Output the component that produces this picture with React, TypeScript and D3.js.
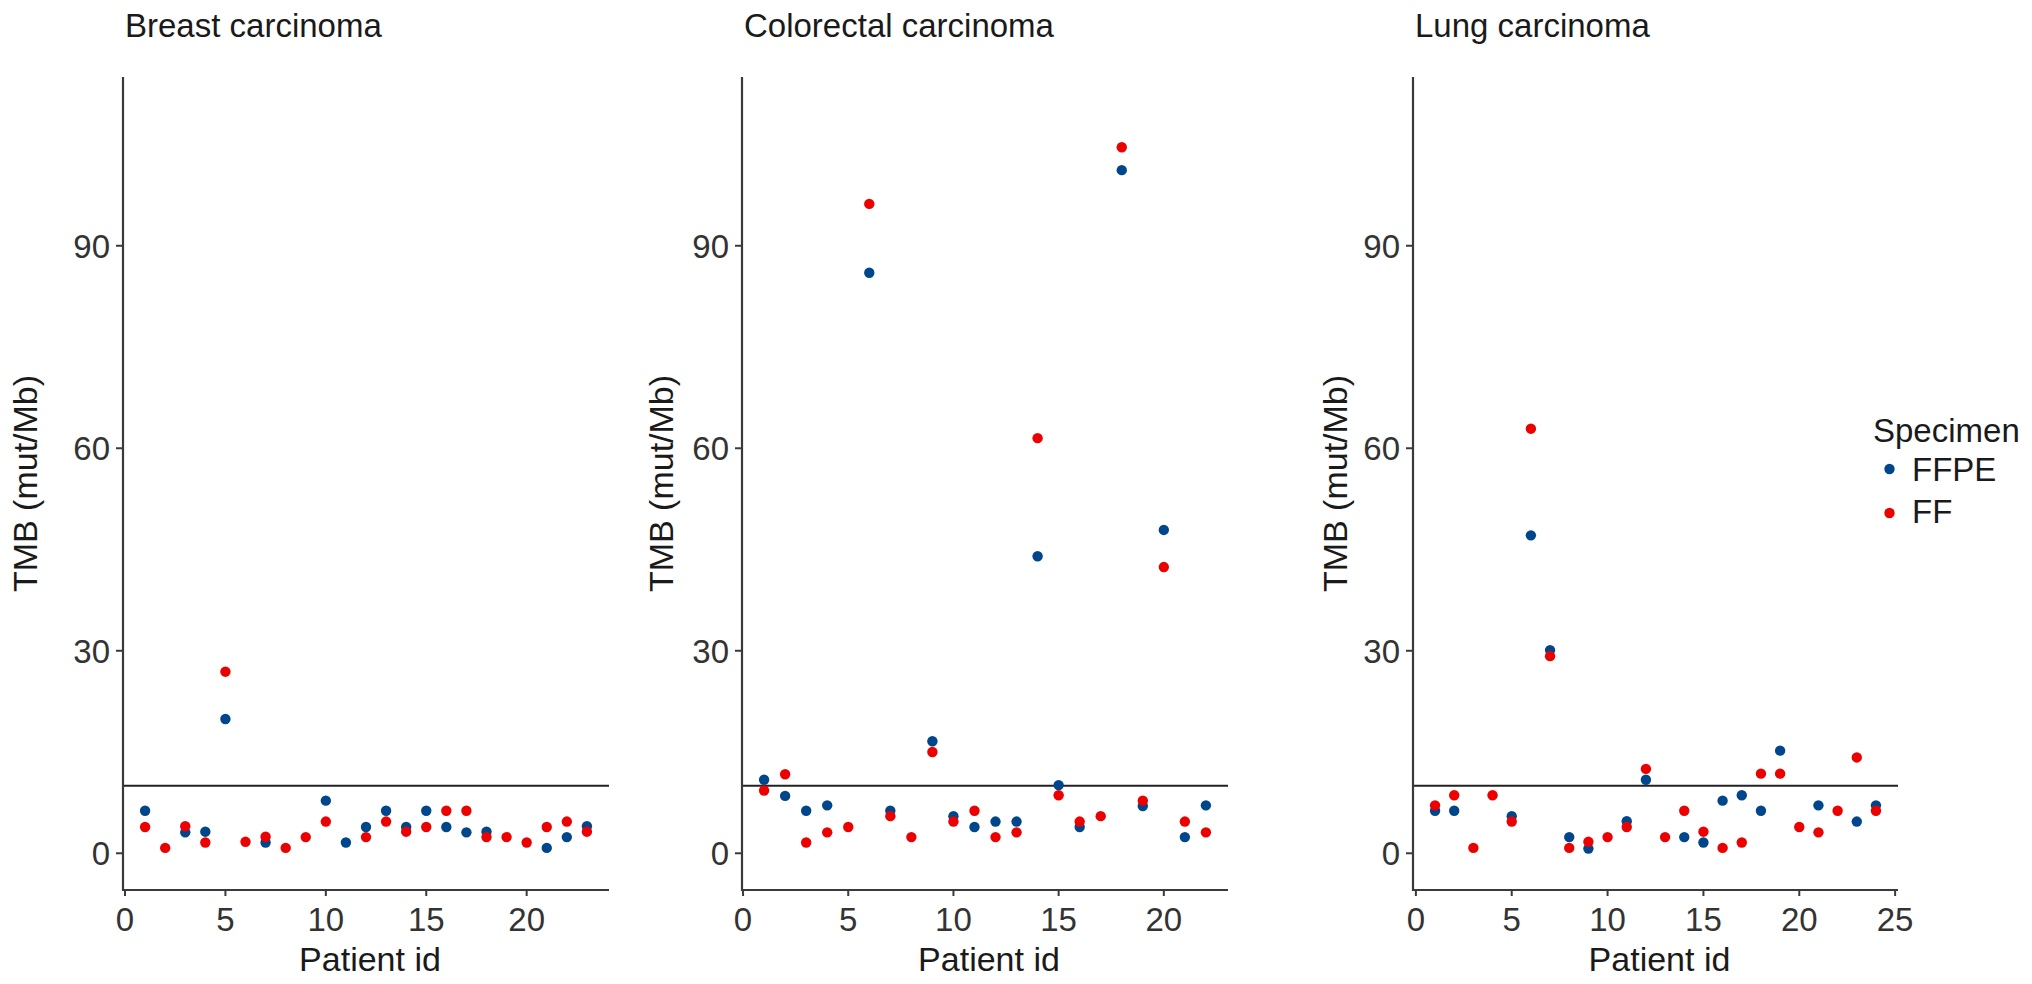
import * as d3 from "d3"

// TMB values per patient (null = point not visible)
const breastFFPE = [6.3, null, 3.1, 3.2, 19.9, null, 1.6, null, null, 7.8, 1.6, 3.9, 6.3, 3.9, 6.3, 3.9, 3.1, 3.2, null, null, 0.8, 2.4, 4.0]
const breastFF = [3.9, 0.8, 4.0, 1.6, 26.9, 1.7, 2.45, 0.8, 2.4, 4.7, null, 2.4, 4.7, 3.2, 3.9, 6.3, 6.3, 2.4, 2.4, 1.6, 3.9, 4.7, 3.2]

const colorectalFFPE = [10.9, 8.5, 6.3, 7.1, null, 86, 6.3, null, 16.6, 5.5, 3.9, 4.7, 4.7, 44, 10.1, 3.9, null, 101.2, 7.0, 47.9, 2.4, 7.1]
const colorectalFF = [9.3, 11.7, 1.6, 3.1, 3.9, 96.2, 5.5, 2.4, 15.0, 4.7, 6.3, 2.4, 3.1, 61.5, 8.6, 4.7, 5.5, 104.6, 7.8, 42.4, 4.7, 3.1]

const lungFFPE = [6.3, 6.3, null, null, 5.5, 47.1, 30.1, 2.4, 0.7, null, 4.75, 10.9, null, 2.4, 1.6, 7.8, 8.6, 6.3, 15.2, null, 7.1, null, 4.7, 7.1]
const lungFF = [7.1, 8.6, 0.8, 8.6, 4.7, 62.9, 29.2, 0.8, 1.7, 2.4, 3.9, 12.5, 2.4, 6.3, 3.2, 0.8, 1.6, 11.8, 11.8, 3.9, 3.1, 6.3, 14.2, 6.3]

const yTicks = [0, 30, 60, 90]
const threshold = 10
const specimens = ["FFPE", "FF"]
const specimenColors = ["#00468B", "#ED0000"]

const FONT = "'Liberation Sans', Arial, Helvetica, sans-serif"
const TXT = "#1a1a1a"
const AX = "#3a3a3a"

type Panel = {
  title: string
  ffpe: (number | null)[]
  ff: (number | null)[]
  left: number
  right: number
  xTicks: number[]
  yTitleX: number
}

const panels: Panel[] = [
  { title: "Breast carcinoma", ffpe: breastFFPE, ff: breastFF, left: 123, right: 609, xTicks: [0, 5, 10, 15, 20], yTitleX: 37 },
  { title: "Colorectal carcinoma", ffpe: colorectalFFPE, ff: colorectalFF, left: 742, right: 1228, xTicks: [0, 5, 10, 15, 20], yTitleX: 673 },
  { title: "Lung carcinoma", ffpe: lungFFPE, ff: lungFF, left: 1413, right: 1898, xTicks: [0, 5, 10, 15, 20, 25], yTitleX: 1347 },
]

const top = 77
const bottom = 890

function PanelPlot({ p }: { p: Panel }) {
  const n = p.ff.length
  const pad = (n - 1) * 0.05
  const x = d3.scaleLinear().domain([1 - pad, n + pad]).range([p.left, p.right])
  const y = d3.scaleLinear().domain([-5.44, 115]).range([bottom, top])
  const series = [p.ffpe, p.ff]
  return (
    <g>
      <text x={p.left + 2} y={37} fontSize={33} fill={TXT} fontFamily={FONT}>
        {p.title}
      </text>
      {/* threshold line */}
      <line x1={p.left} x2={p.right} y1={y(threshold)} y2={y(threshold)} stroke="#222" strokeWidth={2} />
      {/* axes */}
      <line x1={p.left} x2={p.left} y1={top} y2={bottom + 1} stroke={AX} strokeWidth={2.2} />
      <line x1={p.left - 1} x2={p.right} y1={bottom} y2={bottom} stroke={AX} strokeWidth={2.2} />
      {yTicks.map((t) => (
        <g key={t}>
          <line x1={p.left - 7} x2={p.left} y1={y(t)} y2={y(t)} stroke={AX} strokeWidth={2} />
          <text x={p.left - 13} y={y(t)} dy="0.36em" textAnchor="end" fontSize={33} fill="#333" fontFamily={FONT}>
            {t}
          </text>
        </g>
      ))}
      {p.xTicks.map((t) => (
        <g key={t}>
          <line x1={x(t)} x2={x(t)} y1={bottom} y2={bottom + 6} stroke={AX} strokeWidth={2} />
          <text x={x(t)} y={931} textAnchor="middle" fontSize={33} fill="#333" fontFamily={FONT}>
            {t}
          </text>
        </g>
      ))}
      <text x={(p.left + p.right) / 2 + 4} y={971} textAnchor="middle" fontSize={34} fill={TXT} fontFamily={FONT}>
        Patient id
      </text>
      <text
        transform={`translate(${p.yTitleX},${(top + bottom) / 2}) rotate(-90)`}
        textAnchor="middle"
        fontSize={34}
        fill={TXT}
        fontFamily={FONT}
      >
        TMB (mut/Mb)
      </text>
      {series.map((vals, si) =>
        vals.map((v, i) =>
          v == null ? null : (
            <circle key={`${si}-${i}`} cx={x(i + 1)} cy={y(v)} r={5.2} fill={specimenColors[si]} />
          )
        )
      )}
    </g>
  )
}

export default function App() {
  return (
    <svg
      width={2032}
      height={984}
      style={{ position: "absolute", left: 0, top: 0, background: "#fff" }}
    >
      <rect width={2032} height={984} fill="#fff" />
      {panels.map((p) => (
        <PanelPlot key={p.title} p={p} />
      ))}
      <g fontFamily={FONT} fontSize={33} fill={TXT}>
        <text x={1873} y={442}>Specimen</text>
        {specimens.map((s, i) => (
          <g key={s}>
            <circle cx={1889.5} cy={469 + i * 44} r={5.2} fill={specimenColors[i]} />
            <text x={1912} y={481 + i * 42}>{s}</text>
          </g>
        ))}
      </g>
    </svg>
  )
}
